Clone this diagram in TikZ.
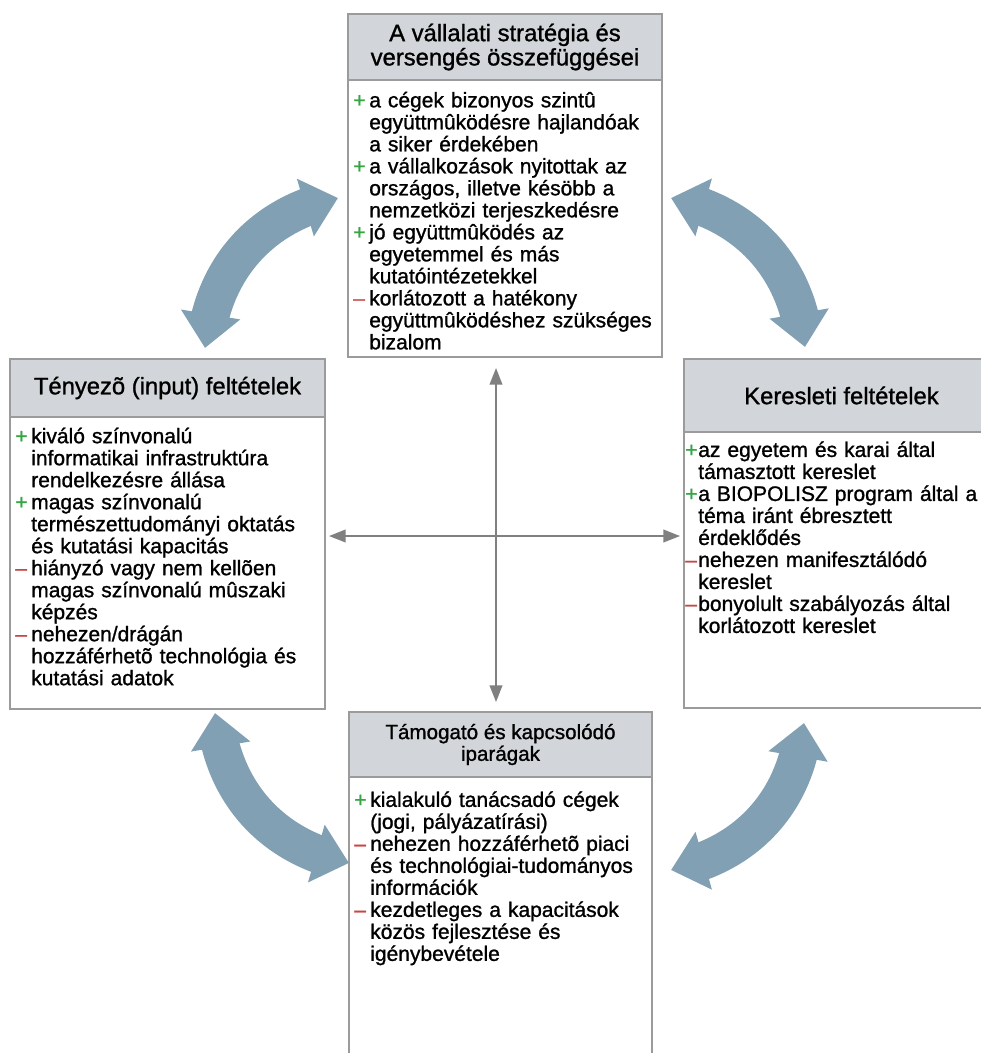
\documentclass[tikz,border=0pt]{standalone}
\usepackage{fontspec}
\setmainfont{Liberation Sans}[FakeBold=1.1]
\usetikzlibrary{arrows.meta,bending,positioning}

\definecolor{boxline}{RGB}{155,155,155}
\definecolor{headfill}{RGB}{210,214,218}
\definecolor{flowblue}{RGB}{130,160,179}
\definecolor{axisgray}{RGB}{128,128,128}
\definecolor{plusgreen}{RGB}{55,165,70}
\definecolor{minusred}{RGB}{200,70,70}

\newlength\markw
\setlength\markw{12pt}
\newcommand\itemfont{\fontsize{15.75pt}{16.5pt}\selectfont}
\newcommand\headfont{\fontsize{17.85pt}{18.2pt}\selectfont}
\newcommand\smallheadfont{\fontsize{15.45pt}{16.3pt}\selectfont}
\newcommand\pro[1]{\par\noindent\hangindent=\markw\hangafter=1%
	\rule{0pt}{12.5pt}\makebox[\markw][l]{\textcolor{plusgreen}{+}}#1\par}
\newcommand\con[1]{\par\noindent\hangindent=\markw\hangafter=1%
	\rule{0pt}{12.5pt}\makebox[\markw][l]{\textcolor{minusred}{\textendash}}#1\par}

\tikzset{
	fattip/.tip={Triangle[length=25.5pt,width=43.5pt]},
	smalltip/.tip={Triangle[length=12.5pt,width=9.5pt]},
	head/.style={draw=boxline, fill=headfill, line width=1.1pt, inner sep=0pt,
			outer sep=0pt, align=center, font=\headfont, anchor=north west},
	bodybox/.style={draw=boxline, fill=white, line width=1.1pt, inner sep=0pt, outer sep=0pt},
	items/.style={anchor=north west, align=left, font=\itemfont, inner xsep=3.75pt},
	fatarrow/.style={draw=flowblue, line width=28.5pt, arrows={fattip-fattip}},
	axisarrow/.style={draw=axisgray, line width=1.4pt, arrows={smalltip-smalltip}}
}

\begin{document}
\begin{tikzpicture}[x=0.75pt,y=0.75pt]
	\useasboundingbox (0,0) rectangle (981,-1053);
	\clip (0,0) rectangle (981,-1053);

	% strategy (top)
	\node[head, minimum width=235.5pt, minimum height=49.5pt] (stratHead) at (348,-14)
		{A vállalati stratégia és\\versengés összefüggései};
	\node[bodybox, minimum width=235.5pt, minimum height=207.75pt, below=0pt of stratHead] (stratBody) {};
	\node[items, text width=228pt, inner ysep=3.8pt] (stratText) at (stratBody.north west) {%
		\pro{a cégek bizonyos szintû\newline együttmûködésre hajlandóak\newline a siker érdekében}
		\pro{a vállalkozások nyitottak az\newline országos, illetve késöbb a\newline nemzetközi terjeszkedésre}
		\pro{jó együttmûködés az\newline egyetemmel és más\newline kutatóintézetekkel}
		\con{korlátozott a hatékony\newline együttmûködéshez szükséges\newline bizalom}};

	% input (left)
	\node[head, minimum width=236.25pt, minimum height=43.5pt] (inputHead) at (10,-359)
		{Tényezõ (input) feltételek};
	\node[bodybox, minimum width=236.25pt, minimum height=219pt, below=0pt of inputHead] (inputBody) {};
	\node[items, text width=228pt, inner ysep=2.95pt] (inputText) at (inputBody.north west) {%
		\pro{kiváló színvonalú\newline informatikai infrastruktúra\newline rendelkezésre állása}
		\pro{magas színvonalú\newline természettudományi oktatás\newline és kutatási kapacitás}
		\con{hiányzó vagy nem kellõen\newline magas színvonalú mûszaki\newline képzés}
		\con{nehezen/drágán\newline hozzáférhetõ technológia és\newline kutatási adatok}};

	% demand (right)
	\node[head, minimum width=236.25pt, minimum height=54.75pt] (demandHead) at (684,-359)
		{Keresleti feltételek};
	\node[bodybox, minimum width=236.25pt, minimum height=207pt, below=0pt of demandHead] (demandBody) {};
	\node[items, text width=230pt, inner xsep=0.75pt, inner ysep=2pt] (demandText) at (demandBody.north west) {%
		\setlength\markw{9.75pt}%
		\pro{az egyetem és karai által\newline támasztott kereslet}
		\pro{a BIOPOLISZ program által a\newline téma iránt ébresztett\newline érdeklődés}
		\con{nehezen manifesztálódó\newline kereslet}
		\con{bonyolult szabályozás által\newline korlátozott kereslet}};

	% supporting industries (bottom)
	\node[head, font=\smallheadfont, minimum width=227.25pt, minimum height=48.75pt] (suppHead) at (349,-712)
		{Támogató és kapcsolódó\\iparágak};
	\node[bodybox, minimum width=227.25pt, minimum height=225pt, below=0pt of suppHead] (suppBody) {};
	\node[items, text width=220pt, inner ysep=5.7pt] (suppText) at (suppBody.north west) {%
		\pro{kialakuló tanácsadó cégek\newline (jogi, pályázatírási)}
		\con{nehezen hozzáférhetõ piaci\newline és technológiai-tudományos\newline információk}
		\con{kezdetleges a kapacitások\newline közös fejlesztése és\newline igénybevétele}};

	% cross in the middle
	\coordinate (hub) at (496,-536);
	\draw[axisarrow, shorten <=8.25pt, shorten >=7.5pt] (stratBody.south -| hub) -- (suppHead.north -| hub);
	\draw[axisarrow, shorten <=3pt, shorten >=3pt] (inputBody.east |- hub) -- (demandBody.west |- hub);

	% curved arrows between the boxes
	\coordinate (tlA) at (205,-348);
	\coordinate (tlB) at (338,-198);
	\coordinate (trA) at (671,-198);
	\coordinate (trB) at (805,-347);
	\coordinate (brA) at (804,-723);
	\coordinate (brB) at (671,-870);
	\coordinate (blA) at (349,-863);
	\coordinate (blB) at (215,-713);
	\draw[fatarrow] (tlA) to[bend left=37] (tlB);
	\draw[fatarrow] (trA) to[bend left=37] (trB);
	\draw[fatarrow] (brA) to[bend left=37] (brB);
	\draw[fatarrow] (blA) to[bend left=37] (blB);
\end{tikzpicture}
\end{document}
